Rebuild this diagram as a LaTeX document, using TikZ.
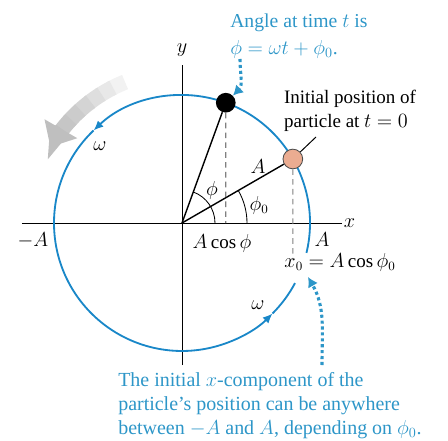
\documentclass[tikz,border=0pt]{standalone}
\usepackage{tikz}
\usepackage{amsmath}
\usepackage{fontspec}
\setmainfont{Liberation Serif}
\usetikzlibrary{arrows.meta}

\definecolor{circblue}{RGB}{25,135,200}
\definecolor{txtblue}{RGB}{45,150,200}
\definecolor{dotorange}{RGB}{235,172,145}

\tikzset{
  circ/.style={circblue, line width=1.3pt},
  tip/.style={-{Latex[length=7pt,width=6pt]}},
  pointer/.style={txtblue, line width=2.2pt, dotted, -{Latex[length=7pt,width=8pt]}},
  drop/.style={gray, dashed, line width=0.8pt, dash pattern=on 4pt off 3pt},
  lbl/.style={inner sep=1pt},
  note/.style={txtblue, align=left, inner sep=0pt}
}

\begin{document}
\begin{tikzpicture}[x=0.025cm, y=0.025cm, font=\fontsize{13.5}{17}\selectfont]
\useasboundingbox (-182,-218) rectangle (266,223);

% Rotacao (seta cinza)
\foreach \a/\g in {112/10, 117/18, 122/26, 127/34, 132/40, 137/45}{
    \draw[gray!\g, line width=11pt] (\a:152) arc (\a:\a+6:152);
}
\draw[gray!50, line width=11pt, -{Triangle[length=15pt,width=26pt]}] (142:152) arc (142:150:152);

% Eixos
\draw[line width=0.7pt] (-160,0) -- (160,0) node[right, lbl] {$x$};
\draw[line width=0.7pt] (0,-142) -- (0,158) node[above=5pt, lbl] {$y$};

% Circulo (com interrupcao perto do rotulo)
\draw[circ, tip] (-13.5:128) arc (-13.5:133.7:128);
\draw[circ, tip] (133.7:128) arc (133.7:315:128);
\draw[circ] (315:128) arc (315:332:128);

% Raios e projecoes
\coordinate (O) at (0,0);
\node[circle, fill=black, inner sep=0pt, minimum size=14pt] (P) at (70:128) {};
\node[circle, draw=black!70, fill=dotorange, line width=0.6pt, inner sep=0pt, minimum size=14pt] (P0) at (30:128) {};
\draw[line width=1pt] (O) -- (P);
\draw[line width=1pt] (O) -- (P0);
\coordinate (Px) at (43.8,0);
\coordinate (P0x) at (110.9,-37);
\draw[drop] (P) -- (Px);
\draw[drop] (P0) -- (P0x);

% Angulos
\draw[line width=0.6pt] (33,0) arc (0:70:33);
\draw[line width=0.6pt] (65,0) arc (0:30:65);
\node[lbl] at (30,33) {$\phi$};
\node[lbl] at (77,18) {$\phi_0$};
\node[lbl] at (76,56) {$A$};

% Rotulos no eixo
\node[lbl] at (-149,-17) {$-A$};
\node[lbl] at (140,-17) {$A$};
\node[lbl] at (40,-20) {$A\cos\phi$};
\node[lbl] at (158,-39) {$x_0 = A\cos\phi_0$};
\node[lbl] at (-82,77) {$\omega$};
\node[lbl] at (76,-82) {$\omega$};

% Posicao inicial
\node[align=left, inner sep=0pt] (init) at (168,112) {Initial position of\\particle at $t = 0$};
\coordinate (lead) at (134,86);
\draw[line width=0.7pt] (lead) -- (P0);

% Notas em azul
\node[note, anchor=west, font=\fontsize{14}{19}\selectfont] (angle) at (48,187) {Angle at time $t$ is\\$\phi = \omega t + \phi_0$.};
\coordinate (a1) at (58,164);
\draw[pointer] (a1) to[out=-90, in=45] (P);

\node[note, anchor=west, font=\fontsize{14.2}{17}\selectfont] (comp) at (-64,-183) {The initial $x$-component of the\\particle's position can be anywhere\\between $-A$ and $A$, depending on $\phi_0$.};
\coordinate (b1) at (140,-142);
\coordinate (b2) at (126,-54);
\draw[pointer] (b1) to[out=90, in=-60] (b2);

\end{tikzpicture}
\end{document}
